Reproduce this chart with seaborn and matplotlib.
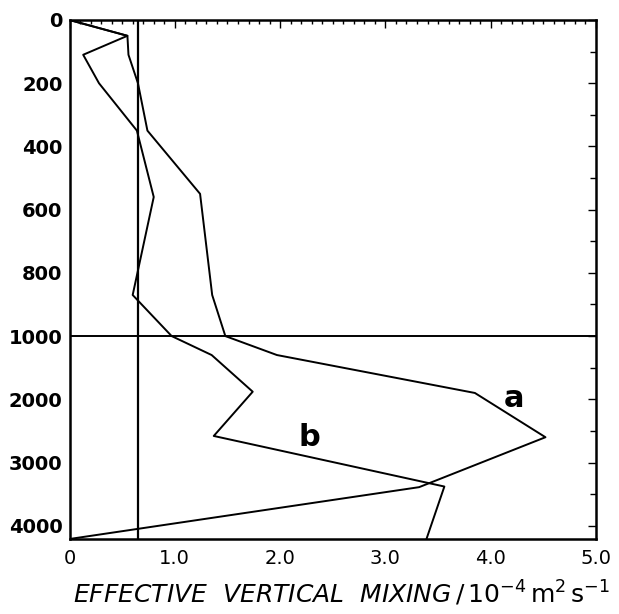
import numpy as np
import pandas as pd
import matplotlib
matplotlib.use("Agg")
import matplotlib.pyplot as plt
import seaborn as sns
from matplotlib.ticker import FixedLocator, MultipleLocator, FixedFormatter, NullFormatter

# ---- data ----
depth_a = [0, 50, 110, 200, 350, 550, 870, 1000, 1300, 1900, 2600, 3390, 4210]
mix_a = [0, 0.55, 0.56, 0.65, 0.74, 1.24, 1.355, 1.48, 1.97, 3.85, 4.52, 3.32, 0.0]
depth_b = [0, 50, 110, 200, 350, 560, 870, 1000, 1300, 1880, 2580, 3380, 4210]
mix_b = [0, 0.55, 0.13, 0.28, 0.64, 0.80, 0.60, 0.97, 1.35, 1.74, 1.37, 3.56, 3.39]
ref_mixing = 0.65
ref_depth = 1000
y_major = [0, 200, 400, 600, 800, 1000, 2000, 3000, 4000]
y_minor = [100, 300, 500, 700, 900, 1500, 2500, 3500]
x_major = [0, 1, 2, 3, 4, 5]
x_labels = ["0", "1.0", "2.0", "3.0", "4.0", "5.0"]

df = pd.concat([
    pd.DataFrame({"mix": mix_a, "depth": depth_a, "profile": "a"}),
    pd.DataFrame({"mix": mix_b, "depth": depth_b, "profile": "b"}),
])

sns.set_style("white")
plt.rcParams["font.family"] = ["DejaVu Sans"]
plt.rcParams["mathtext.fontset"] = "dejavusans"
plt.rcParams["text.color"] = "black"
plt.rcParams["axes.labelcolor"] = "black"
plt.rcParams["xtick.color"] = "black"
plt.rcParams["ytick.color"] = "black"

fig = plt.figure(figsize=(6.19, 6.14), dpi=100)
ax = fig.add_axes([69.5 / 619, 1 - 539 / 614, (596 - 69.5) / 619, (539 - 20) / 614])


def fwd(d):
    d = np.asarray(d, dtype=float)
    return np.where(d <= 1000, d, 1000 + (d - 1000) * 0.2)


def inv(v):
    v = np.asarray(v, dtype=float)
    return np.where(v <= 1000, v, 1000 + (v - 1000) * 5.0)


ax.set_yscale("function", functions=(fwd, inv))

sns.lineplot(data=df, x="mix", y="depth", units="profile", estimator=None,
             sort=False, color="black", lw=1.4, ax=ax, legend=False)

ax.axvline(ref_mixing, color="black", lw=1.6)
ax.axhline(ref_depth, color="black", lw=1.4)

ax.set_xlim(0, 5.0)
ax.set_ylim(4210, 0)

ax.yaxis.set_major_locator(FixedLocator(y_major))
ax.yaxis.set_minor_locator(FixedLocator(y_minor))
ax.yaxis.set_major_formatter(FixedFormatter([str(v) for v in y_major]))
ax.yaxis.set_minor_formatter(NullFormatter())

ax.xaxis.set_major_locator(FixedLocator(x_major))
ax.xaxis.set_major_formatter(FixedFormatter(x_labels))
ax.xaxis.set_minor_locator(MultipleLocator(0.1))

ax.tick_params(axis="both", which="both", direction="in", top=True, right=True,
               color="black", labelcolor="black", width=1.0)
ax.tick_params(axis="y", which="major", length=6, labelsize=14, pad=5)
ax.tick_params(axis="y", which="minor", length=4)
ax.tick_params(axis="x", which="major", length=6, labelsize=14, pad=7)
ax.tick_params(axis="x", which="minor", length=3)
for lab in ax.get_yticklabels():
    lab.set_fontweight("bold")

for s in ax.spines.values():
    s.set_color("black")
    s.set_linewidth(1.8)

ax.set_ylabel("")
ax.set_xlabel(r"EFFECTIVE  VERTICAL  MIXING$\,/\,\mathrm{10^{-4}\,m^{2}\,s^{-1}}$",
              fontsize=18, fontstyle="italic", color="black", va="center")
ax.xaxis.set_label_coords((341.5 - 69.5) / 526.5, -(594 - 539) / 519)

ax.text(4.22, 1990, "a", fontsize=22, fontweight="bold", color="black",
        ha="center", va="center")
ax.text(2.28, 2600, "b", fontsize=22, fontweight="bold", color="black",
        ha="center", va="center")

fig.savefig("out.png", dpi=100)
